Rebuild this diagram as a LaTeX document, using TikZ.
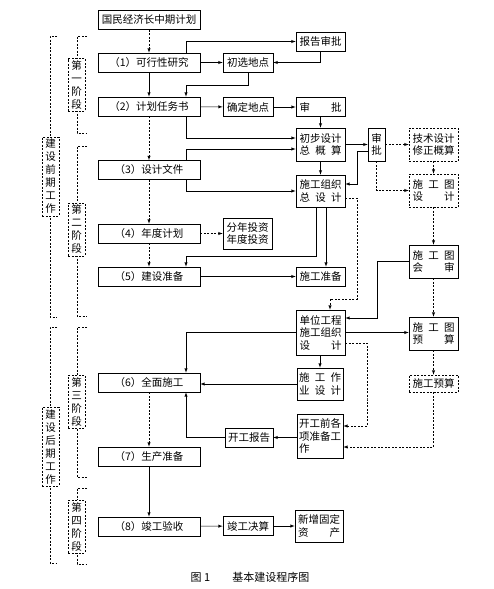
\documentclass[tikz,border=0pt]{standalone}
\usepackage{fontspec}
\setmainfont{Noto Sans CJK SC}
\newcommand{\fw}[1]{\makebox[4em][s]{#1}}

\begin{document}
\begin{tikzpicture}[x=1pt, y=-1pt,
	box/.style={draw, line width=0.6pt, inner sep=0pt, minimum height=19pt, font=\fontsize{10.5}{12.5}\selectfont},
	mainbox/.style={box, minimum width=102pt},
	sidebox/.style={box, minimum width=50pt},
	twobox/.style={box, minimum width=49pt, align=left},
	stage/.style={draw, dash pattern=on 2pt off 1.5pt, fill=white, inner xsep=3pt, inner ysep=2pt, align=center, font=\fontsize{10.5}{13}\selectfont},
	brk/.style={line width=0.5pt, dash pattern=on 2pt off 1.5pt},
	arr/.style={-latex, line width=0.5pt},
	darr/.style={arr, dash pattern=on 2pt off 1.5pt}]
	\useasboundingbox (0,0) rectangle (493,589);
	\coordinate (tx) at (186,0);

	% main column
	\node[mainbox] (plan) at (149,20) {国民经济长中期计划};
	\node[mainbox] (s1) at (149,62.5) {（1）可行性研究};
	\node[mainbox] (s2) at (149,106.5) {（2）计划任务书};
	\node[mainbox] (s3) at (149,170) {（3）设计文件};
	\node[mainbox] (s4) at (149,233.5) {（4）年度计划};
	\node[mainbox] (s5) at (149,276.5) {（5）建设准备};
	\node[mainbox] (s6) at (149,382.5) {（6）全面施工};
	\node[mainbox] (s7) at (149,456.5) {（7）生产准备};
	\node[mainbox] (s8) at (149,526.5) {（8）竣工验收};

	\node[sidebox] (xuan) at (248,62.5) {初选地点};
	\node[sidebox, minimum width=49pt] (bg) at (320.5,41.5) {报告审批};
	\node[sidebox] (qd) at (248,107) {确定地点};
	\node[sidebox, minimum width=49pt] (sp1) at (320.5,107) {\fw{审\hfill 批}};
	\node[twobox, minimum height=33pt] (cb) at (320.5,144.5) {初步设计\\\fw{总\hfill 概\hfill 算}};
	\node[box, minimum width=17pt, minimum height=33pt, align=center] (sp2) at (376.5,144.5) {审\\批};
	\node[twobox, dash pattern=on 2pt off 1.5pt, minimum height=33pt] (js) at (433.5,144.5) {技术设计\\修正概算};
	\node[twobox, minimum height=32pt] (zz) at (320.5,191) {施工组织\\\fw{总\hfill 设\hfill 计}};
	\node[twobox, dash pattern=on 2pt off 1.5pt, minimum height=33pt] (sgt) at (433.5,190.5) {\fw{施\hfill 工\hfill 图}\\\fw{设\hfill 计}};
	\node[twobox, minimum height=31pt] (fn) at (247.5,233.5) {分年投资\\年度投资};
	\node[sidebox, minimum width=49pt] (zb) at (320.5,276.5) {施工准备};
	\node[twobox, minimum height=33pt] (hs) at (433.5,261.5) {\fw{施\hfill 工\hfill 图}\\\fw{会\hfill 审}};
	\node[twobox, minimum height=45pt] (dw) at (320.5,332.5) {单位工程\\施工组织\\\fw{设\hfill 计}};
	\node[twobox, minimum height=33pt] (ys) at (433.5,333.5) {\fw{施\hfill 工\hfill 图}\\\fw{预\hfill 算}};
	\node[twobox, minimum width=46pt, minimum height=32pt] (zy) at (320,384) {\fw{施\hfill 工\hfill 作}\\\fw{业\hfill 设\hfill 计}};
	\node[sidebox, dash pattern=on 2pt off 1.5pt, minimum width=49pt, minimum height=17pt] (sy) at (433.5,383.5) {施工预算};
	\node[twobox, minimum width=46pt, minimum height=44pt] (kq) at (320,436) {开工前各\\项准备工\\\fw{作\hfill}};
	\node[sidebox, minimum width=48pt] (kb) at (249,437.5) {开工报告};
	\node[sidebox] (jj) at (248,526) {竣工决算};
	\node[twobox, minimum width=48pt, minimum height=32pt] (xz) at (319,526) {新增固定\\\fw{资\hfill 产}};

	\node[font=\fontsize{11}{13}\selectfont] (cap) at (250,577) {图 1\hspace{2em}基本建设程序图};

	% stage brackets
	\draw[brk] (57,36) -- (50,36) -- (50,317) -- (57,317);
	\draw[brk] (57,327) -- (50,327) -- (50,563) -- (57,563);
	\draw[brk] (87,36) -- (77,36) -- (77,133) -- (87,133);
	\draw[brk] (87,146) -- (77,146) -- (77,316) -- (87,316);
	\draw[brk] (87,327) -- (77,327) -- (77,477) -- (87,477);
	\draw[brk] (87,488) -- (77,488) -- (77,564) -- (87,564);
	\node[stage] (qq) at (50.5,176.5) {建\\设\\前\\期\\工\\作};
	\node[stage] (hq) at (50.5,446.5) {建\\设\\后\\期\\工\\作};
	\node[stage] (jd1) at (76.5,85) {第\\一\\阶\\段};
	\node[stage] (jd2) at (76.5,229.5) {第\\二\\阶\\段};
	\node[stage] (jd3) at (76.5,401.5) {第\\三\\阶\\段};
	\node[stage] (jd4) at (76.5,526.5) {第\\四\\阶\\段};

	% connectors
	\draw[darr] (plan) -- (s1);
	\draw[arr] (s1.north -| tx) |- (bg.west);
	\draw[arr] (s1) -- (xuan);
	\draw[arr] (bg.south) |- (xuan.east);
	\draw[arr] (xuan.south) -- (xuan.south |- 0,85) -| (s2.north -| tx);
	\draw[arr] (s1) -- (s2);
	\draw[arr] (s2) -- (qd);
	\draw[arr] (qd) -- (sp1);
	\draw[arr] (sp1) -- (cb);
	\draw[arr] (s2.south -| tx) |- (cb.west |- 0,138);
	\draw[darr] (s2) -- (s3);
	\draw[arr] (s3.north -| tx) |- (cb.west |- 0,149);
	\draw[arr] (s3.south -| tx) |- (zz.west);
	\draw[arr] (cb) -- (zz);
	\draw[arr] (cb) -- (sp2);
	\draw[arr] (sp2.west |- 0,151) -- (357,151) |- (zz.east |- 0,184);
	\draw[darr] (sp2) -- (js);
	\draw[darr] (sp2.south) |- (sgt.west);
	\draw[darr] (js) -- (sgt);
	\draw[darr] (s3) -- (s4);
	\draw[darr] (s4) -- (fn);
	\draw[darr] (s4) -- (s5);
	\draw[arr] (zz.south -| 316,0) |- (tx |- 0,256) -- (s5.north -| tx);
	\draw[arr] (zz.south -| 326,0) -- (zb.north -| 326,0);
	\draw[darr] (zz.east |- 0,198) -| (357,299) -| (dw.north -| 330,0);
	\draw[arr] (s5) -- (zb);
	\draw[darr] (sgt) -- (hs);
	\draw[arr] (hs.west) -- (377,261.5) |- (dw.east |- 0,318);
	\draw[darr] (hs) -- (ys);
	\draw[arr] (dw.east) -- (dw.east -| ys.west);
	\draw[arr] (dw.west) -| (s6.north -| tx);
	\draw[arr] (dw.south -| zy.north) -- (zy.north);
	\draw[darr] (dw.east |- 0,343) -| (367,400) |- (kq.east |- 0,426);
	\draw[darr] (ys) -- (sy);
	\draw[darr] (sy.south) |- (kq.east |- 0,447);
	\draw[arr] (zy.west) -- (zy.west -| s6.east);
	\draw[arr] (kq.west |- kb.east) -- (kb.east);
	\draw[arr] (kb.west) -| (s6.south -| tx);
	\draw[darr] (s6) -- (s7);
	\draw[arr] (s7) -- (s8);
	\draw[arr] (s8) -- (jj);
	\draw[arr] (jj) -- (xz);
\end{tikzpicture}
\end{document}
